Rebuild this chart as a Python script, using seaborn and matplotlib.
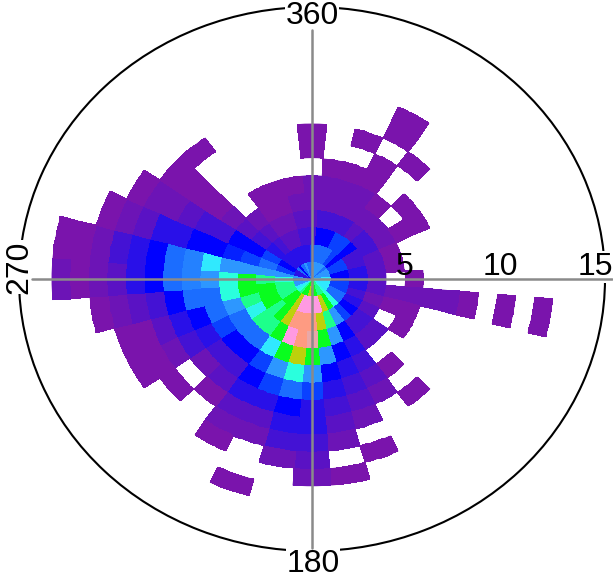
import numpy as np
import matplotlib
matplotlib.use("Agg")
import matplotlib.pyplot as plt
from matplotlib.colors import Normalize
import seaborn as sns

# one row per direction (degrees), one value per 1-unit speed ring, 0 = no data
directions = list(range(0, 360, 10))
cell_levels = [
    [8, 7, 4, 3, 2, 2, 0, 1, 1],
    [9, 8, 6, 4, 2, 2, 1],
    [9, 8, 6, 4, 2, 2, 1, 0, 1],
    [9, 8, 7, 4, 2, 2, 1, 1, 0, 1, 1],
    [9, 7, 7, 3, 2, 1, 0, 0, 1],
    [8, 6, 6, 4, 2, 0, 1],
    [9, 7, 4, 4, 2, 1, 1],
    [9, 7, 4, 3, 1],
    [9, 6, 5, 3, 1],
    [10, 6, 5, 3, 0, 1],
    [10, 7, 5, 3, 2, 2, 2, 2, 1, 0, 1, 0, 1],
    [10, 7, 4, 2, 1, 1],
    [10, 8, 5, 3, 0, 1],
    [10, 8, 6, 4, 3],
    [11, 11, 7, 4, 3, 0, 1, 0, 1],
    [12, 13, 9, 6, 5, 4, 3, 2],
    [12, 14, 12, 9, 6, 5, 4, 3, 2, 0, 1],
    [13, 15, 14, 13, 9, 6, 5, 4, 3, 2, 0, 1],
    [13, 15, 16, 17, 13, 9, 7, 5, 5, 4, 3, 2],
    [14, 15, 16, 16, 14, 11, 8, 6, 5, 4, 2],
    [13, 15, 16, 15, 13, 9, 7, 5, 3, 2, 0, 0, 1],
    [13, 14, 14, 13, 10, 7, 6, 5, 3, 2, 1],
    [12, 13, 13, 12, 8, 6, 4, 3, 1],
    [11, 13, 12, 12, 8, 6, 4, 2, 0, 1],
    [10, 12, 13, 10.5, 8, 7, 5, 4, 2, 1, 1],
    [9, 12, 13, 12, 9, 8, 6, 5, 3, 1, 1],
    [9, 12, 13, 13, 11, 8, 8, 6, 4, 3, 2, 1],
    [8, 11, 12, 13, 11, 9, 8.5, 8, 6, 5, 3, 2, 1, 2],
    [9, 9, 9, 9, 9, 10, 8.5, 8, 6, 5, 4, 2, 1, 1],
    [5, 7, 8, 7, 6.5, 6, 6, 5, 5, 3, 2, 1],
    [5, 6, 7, 6, 6, 4, 4, 3, 2, 2, 1],
    [8, 5, 5, 4, 3, 2, 1, 1, 1, 1],
    [6, 5, 4, 3, 2, 0, 0, 0, 0, 1],
    [8, 5, 3, 2, 1, 1],
    [9, 5, 3, 2, 1, 1],
    [8, 5, 4, 3, 2, 1],
]
level_colors = [
    "#7a14ac", "#6c14b6", "#5a12c4", "#4412d4", "#2a10e8", "#0000ff",
    "#0a40ff", "#1a6cff", "#2d94ff", "#30e8ff", "#2bffe0", "#1eff90",
    "#00ff20", "#b8d400", "#ff9ae8", "#ff9a80", "#e8a8a8",
]
spoke_angles = [0, 90, 180, 270]
spoke_reach = [14.4, 16.1, 15.6, 15.05]

W, H = 613, 586
sns.set_theme(style="white")
plt.rcParams["font.family"] = ["Liberation Sans", "DejaVu Sans"]

cmap = sns.blend_palette(level_colors, as_cmap=True)
norm = Normalize(1, len(level_colors))

fig = plt.figure(figsize=(W / 100, H / 100), dpi=100)
ax = fig.add_axes([19 / W, 35 / H, 586 / W, 544 / H], projection="polar")
ax.set_aspect("auto")
ax.set_theta_zero_location("N")
ax.set_theta_direction(-1)

n_rings = max(len(r) for r in cell_levels)
grid = np.full((n_rings, len(directions)), np.nan)
for j, rings in enumerate(cell_levels):
    for k, level in enumerate(rings):
        if level > 0:
            grid[k, j] = level
            # bars underneath only to soften the outer edges of the mesh
            ax.bar(np.radians(directions[j]), 1, width=np.radians(10), bottom=k,
                   color=cmap(norm(level)), linewidth=0, zorder=0.5)

# split each 10 degree sector so the outer edges follow the arc
steps = 6
theta_edges = np.radians(np.linspace(-5, 355, len(directions) * steps + 1))
r_edges = np.arange(n_rings + 1)
ax.pcolormesh(theta_edges, r_edges, np.repeat(grid, steps, axis=1),
              cmap=cmap, norm=norm, shading="flat", zorder=1)

ax.set_ylim(0, 15.75)
ax.set_xticks([])
ax.set_yticks([])
ax.grid(False)
ax.spines["polar"].set_linewidth(1.5)
ax.spines["polar"].set_color("black")

for angle, reach in zip(spoke_angles, spoke_reach):
    ax.plot([np.radians(angle)] * 2, [0, reach], color="#8a8a8a", lw=1.8,
            clip_on=False, zorder=5)


def label(x, y, s, boxed=False, **kw):
    bbox = dict(facecolor="white", edgecolor="none", pad=0.5) if boxed else None
    ax.text(x / W, 1 - y / H, s, fontsize=23, ha="center", va="center",
            color="black", bbox=bbox, zorder=4, clip_on=False,
            transform=fig.transFigure, **kw)


label(312, 16, "360", boxed=True)
label(313, 564, "180", boxed=True)
label(19, 267, "270", boxed=True, rotation=90)
label(405, 267, "5")
label(500, 267, "10")
label(595, 267, "15", boxed=True)

fig.savefig("out.png", dpi=100)
